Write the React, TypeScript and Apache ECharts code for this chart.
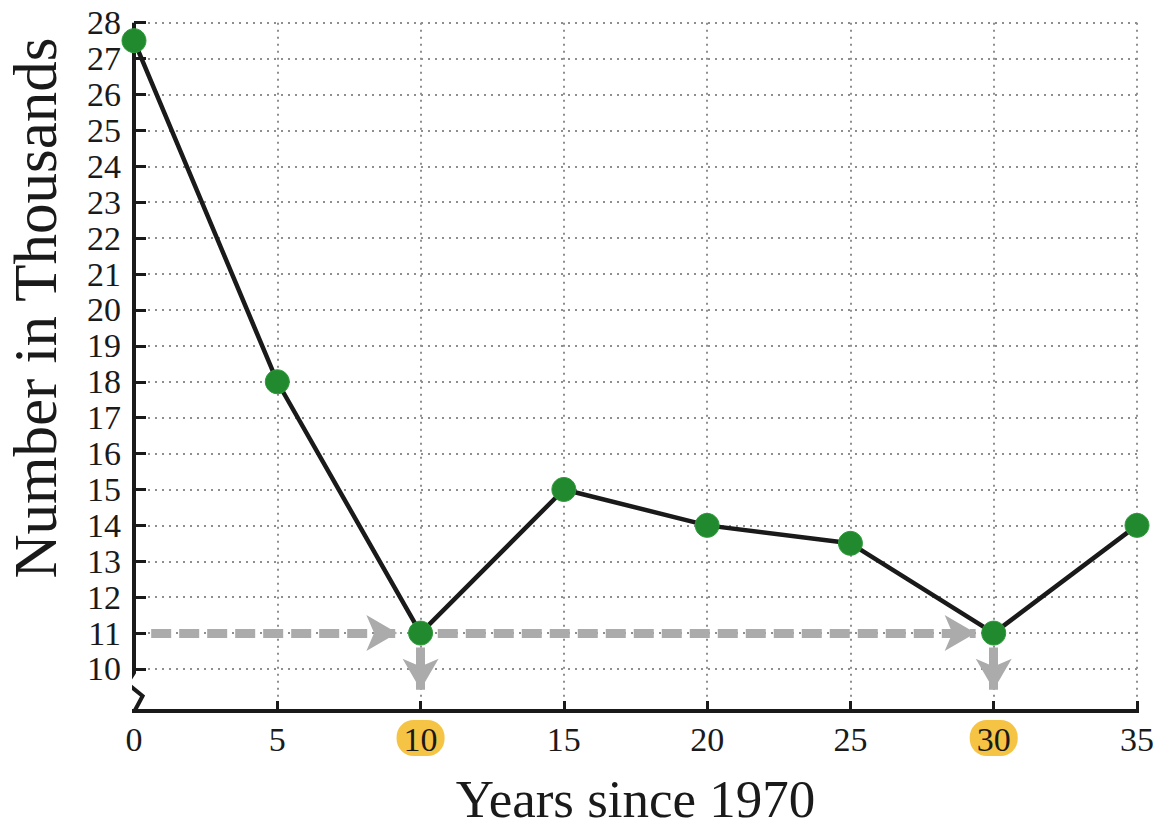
import React, { useEffect, useRef } from "react";
import * as echarts from "echarts";

// ---- data ----
const years = [0, 5, 10, 15, 20, 25, 30, 35];
const values = [27.5, 18, 11, 15, 14, 13.5, 11, 14];
const xLabelValues = [0, 5, 10, 15, 20, 25, 30, 35];
const xTickValues = [5, 10, 15, 20, 25, 30, 35];
const yTickValues = [10, 11, 12, 13, 14, 15, 16, 17, 18, 19, 20, 21, 22, 23, 24, 25, 26, 27, 28];
const highlightedYears = [10, 30];
const yMin = 8.83;
const yMax = 28;
const xMin = 0;
const xMax = 35;
// axis decorations (data coordinates)
const yAxisWithBreak = [[0, 28], [0, 9.9], [-0.24, 9.6], [0.3, 9.25], [0.02, 8.83]];
const xAxisLine = [[-0.75, 8.83], [35.7, 8.83]];
// guide arrows: [fromX, fromY, toX, toY]
const guideArrows = [
  [0.6, 11, 9.19, 11],
  [10.6, 11, 29.37, 11],
  [10, 10.6, 10, 9.42],
  [30, 10.6, 30, 9.42],
];

const FONT = "Liberation Serif";

export default function App() {
  const ref = useRef<HTMLDivElement>(null);
  useEffect(() => {
    if (!ref.current) return;
    const chart = echarts.init(ref.current, null, { renderer: "svg" });
    const option: any = {
      animation: false,
      backgroundColor: "#ffffff",
      grid: {
        left: 134,
        right: 20,
        top: 22.7,
        bottom: 118,
        containLabel: false,
        outerBoundsMode: "none",
      },
      xAxis: {
        type: "value",
        min: xMin,
        max: xMax,
        name: "Years since 1970",
        nameLocation: "middle",
        nameGap: 66,
        nameTextStyle: { fontFamily: FONT, fontSize: 53, lineHeight: 44, color: "#1a1a1a" },
        axisLine: { show: false },
        axisTick: {
          show: true,
          inside: true,
          length: 10,
          customValues: xTickValues,
          lineStyle: { color: "#1a1a1a", width: 3 },
        },
        axisLabel: {
          customValues: xLabelValues,
          margin: 9,
          fontFamily: FONT,
          fontSize: 34,
          color: "#1a1a1a",
          formatter: (v: number) =>
            highlightedYears.indexOf(v) >= 0 ? `{hl|${v}}` : `{n|${v}}`,
          rich: {
            hl: {
              fontFamily: FONT,
              fontSize: 34,
              color: "#1a1a1a",
              backgroundColor: "#F6C445",
              borderRadius: 17,
              padding: [2, 7, 0, 7],
            },
            n: {
              fontFamily: FONT,
              fontSize: 34,
              color: "#1a1a1a",
              padding: [2, 7, 0, 7],
            },
          },
        },
        splitLine: {
          show: true,
          lineStyle: { color: "#8e8e8e", width: 2, type: [2, 5] },
        },
      },
      yAxis: {
        type: "value",
        min: yMin,
        max: yMax,
        axisLine: { show: false },
        axisTick: {
          show: true,
          inside: true,
          length: 12,
          customValues: yTickValues,
          lineStyle: { color: "#1a1a1a", width: 3 },
        },
        axisLabel: {
          customValues: yTickValues,
          margin: 13,
          fontFamily: FONT,
          fontSize: 34,
          color: "#1a1a1a",
        },
        splitLine: {
          show: true,
          lineStyle: { color: "#8e8e8e", width: 2, type: [2, 5] },
        },
      },
      graphic: [
        {
          type: "text",
          x: 35,
          y: 308,
          rotation: Math.PI / 2,
          style: {
            text: "Number in Thousands",
            font: `61px "${FONT}"`,
            fill: "#1a1a1a",
            align: "center",
            verticalAlign: "middle",
          },
        },
      ],
      series: [
        {
          type: "line",
          data: yAxisWithBreak,
          clip: false,
          symbol: "none",
          silent: true,
          lineStyle: { color: "#1a1a1a", width: 4, join: "miter" },
          z: 3,
        },
        {
          type: "line",
          data: xAxisLine,
          clip: false,
          symbol: "none",
          silent: true,
          lineStyle: { color: "#1a1a1a", width: 4 },
          z: 3,
        },
        {
          type: "line",
          data: [],
          silent: true,
          z: 4,
          markLine: {
            silent: true,
            symbol: ["none", "arrow"],
            symbolSize: [27, 31],
            label: { show: false },
            lineStyle: { color: "#ababab", width: 9, type: [20, 8], cap: "butt" },
            emphasis: { disabled: true },
            data: guideArrows.map((a) => [
              { coord: [a[0], a[1]], symbol: "none" },
              { coord: [a[2], a[3]], symbol: "arrow" },
            ]),
          },
        },
        {
          type: "line",
          data: years.map((y, i) => [y, values[i]]),
          symbol: "circle",
          symbolSize: 24,
          lineStyle: { color: "#1a1a1a", width: 4.5 },
          itemStyle: { color: "#218a2f", borderColor: "#2e9a3a", borderWidth: 1 },
          z: 5,
        },
      ],
    };
    chart.setOption(option);
    return () => chart.dispose();
  }, []);
  return (
    <div
      ref={ref}
      style={{ position: "absolute", left: 0, top: 0, width: 1157, height: 829 }}
    />
  );
}
